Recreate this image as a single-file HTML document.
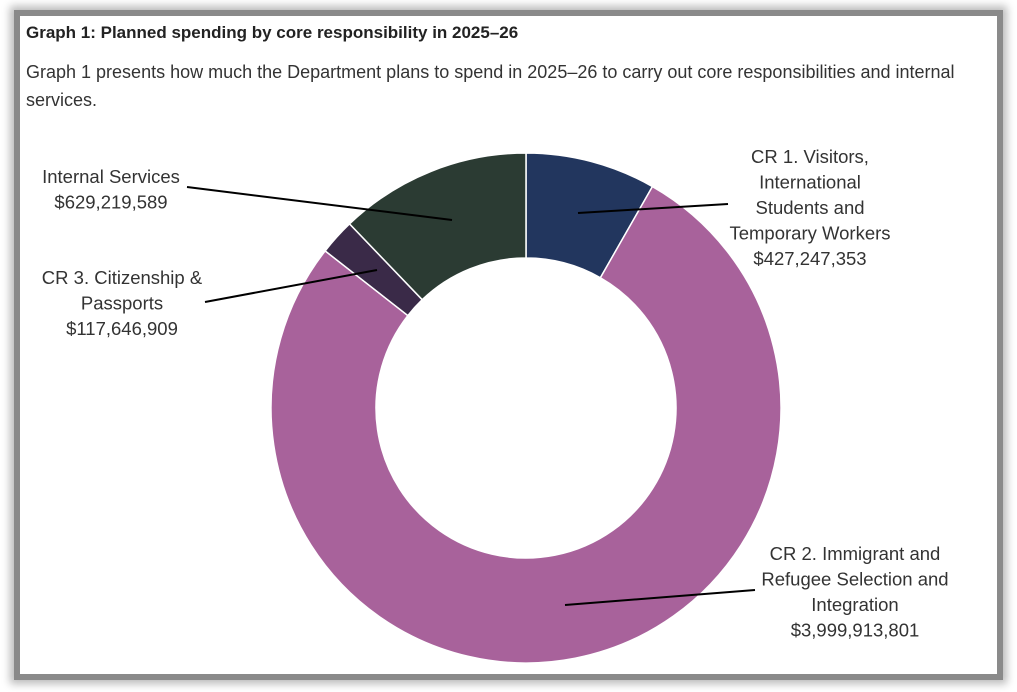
<!DOCTYPE html>
<html><head><meta charset="utf-8"><style>
body{margin:0;width:1017px;height:692px;background:#fff;position:relative;overflow:hidden;font-family:"Liberation Sans",sans-serif}
#frame{position:absolute;left:14px;top:10px;width:989px;height:670px;background:#8a8a8a;box-shadow:0 0 8px 4px #bbb}
#card{position:absolute;left:20px;top:16px;width:977px;height:658px;background:#fff}
h1{position:absolute;left:6px;top:7px;margin:0;font-size:17px;font-weight:bold;color:#222}
p{position:absolute;left:6px;top:42px;margin:0;font-size:18px;line-height:28px;color:#333;width:940px}
svg{position:absolute;left:0;top:0}
text{font-family:"Liberation Sans",sans-serif;font-size:18.5px;fill:#333}
</style></head><body>
<div id="frame"></div>
<div id="card">
<h1>Graph 1: Planned spending by core responsibility in 2025–26</h1>
<p>Graph 1 presents how much the Department plans to spend in 2025–26 to carry out core responsibilities and internal services.</p>
</div>
<svg id="chart" width="1017" height="692"></svg>
<script>
const categories=["CR 1. Visitors, International Students and Temporary Workers","CR 2. Immigrant and Refugee Selection and Integration","CR 3. Citizenship & Passports","Internal Services"];
const values=[427247353,3999913801,117646909,629219589];
const colors=["#22365e","#a8629b","#3a2a48","#2b3b33"];
const labelLines=[["CR 1. Visitors,","International","Students and","Temporary Workers"],["CR 2. Immigrant and","Refugee Selection and","Integration"],["CR 3. Citizenship &","Passports"],["Internal Services"]];
const NS="http://www.w3.org/2000/svg",svg=document.getElementById('chart');
const cx=526,cy=408,R=255,r=150;
const total=values.reduce((a,b)=>a+b,0);
function pt(a,rad){return [cx+rad*Math.sin(a),cy-rad*Math.cos(a)];}
const fmt=v=>"$"+v.toLocaleString("en-US");
const lab=[{x:810,y:163,sx:578,sy:213,ex:728,ey:204},{x:855,y:560,sx:565,sy:605,ex:755,ey:590},{x:122,y:284,sx:377,sy:270,ex:205,ey:302},{x:111,y:183,sx:452,sy:220,ex:187,ey:187}];
let acc=0;
values.forEach((v,i)=>{
  const a0=acc/total*2*Math.PI;acc+=v;const a1=acc/total*2*Math.PI;
  const big=(a1-a0)>Math.PI?1:0;
  const [x0,y0]=pt(a0,R),[x1,y1]=pt(a1,R),[x2,y2]=pt(a1,r),[x3,y3]=pt(a0,r);
  const p=document.createElementNS(NS,'path');
  p.setAttribute('d',`M${x0},${y0}A${R},${R} 0 ${big} 1 ${x1},${y1}L${x2},${y2}A${r},${r} 0 ${big} 0 ${x3},${y3}Z`);
  p.setAttribute('fill',colors[i]);p.setAttribute('stroke','#fff');p.setAttribute('stroke-width','1.5');
  
  
  svg.appendChild(p);
});
values.forEach((v,i)=>{
  const L=lab[i];
  const ln=document.createElementNS(NS,'line');
  ln.setAttribute('x1',L.sx);ln.setAttribute('y1',L.sy);ln.setAttribute('x2',L.ex);ln.setAttribute('y2',L.ey);
  ln.setAttribute('stroke','#000');ln.setAttribute('stroke-width','2');
  
  
  svg.appendChild(ln);
  const t=document.createElementNS(NS,'text');
  t.setAttribute('x',L.x);t.setAttribute('y',L.y);t.setAttribute('text-anchor','middle');
  
  
  labelLines[i].concat([fmt(v)]).forEach((s,j)=>{const ts=document.createElementNS(NS,'tspan');ts.setAttribute('x',L.x);ts.setAttribute('dy',j?25.5:0);ts.textContent=s;t.appendChild(ts);});
  svg.appendChild(t);
});
</script>
</body></html>
